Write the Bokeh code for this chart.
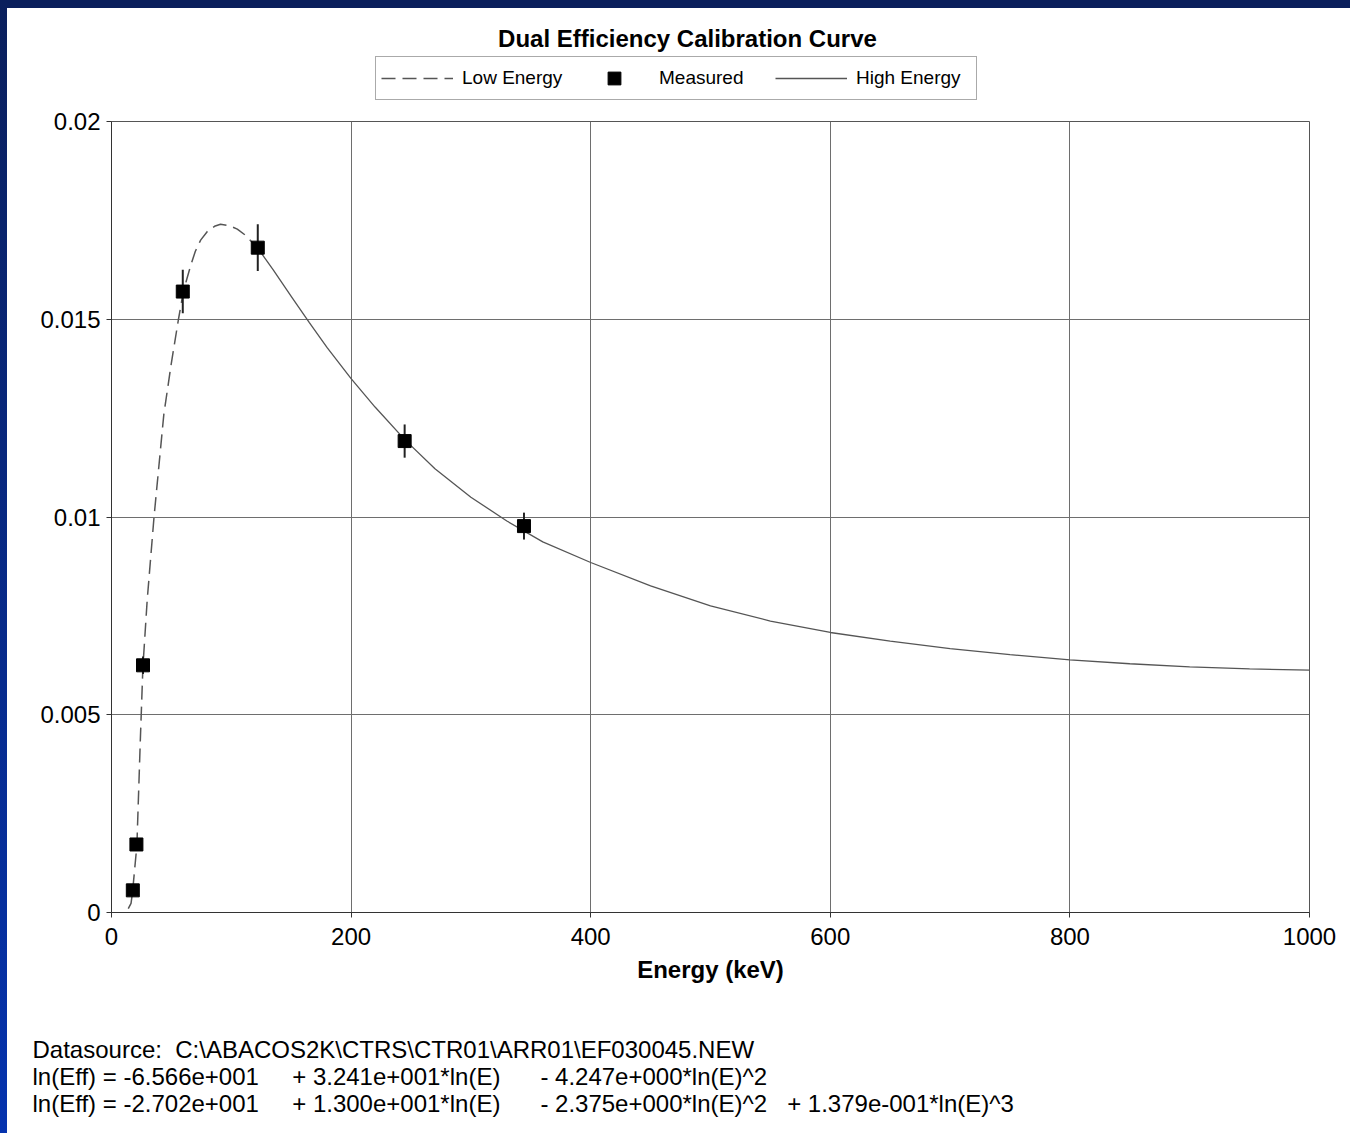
from bokeh.plotting import figure
from bokeh.models import (Range1d, FixedTicker, Legend, LegendItem, Title, Spacer, Label,
                          ColumnDataSource)
from bokeh.layouts import row, column
from bokeh.embed import file_html
from bokeh.resources import INLINE

# ---- data ----
energy_low = [14, 16.3, 17.6, 21.2, 24, 26.2, 29.8, 35.5, 43.7, 50, 55.9, 60, 63, 66, 70, 74.4,
              80, 86, 91, 98, 105, 112, 122]
eff_low = [0.0001, 0.00023, 0.00053, 0.0017, 0.0043, 0.0062, 0.0079, 0.0100, 0.0126, 0.0139, 0.0150,
           0.0157, 0.01603, 0.01635, 0.01672, 0.0170, 0.01722, 0.01735, 0.0174, 0.01737, 0.01728,
           0.01712, 0.0168]

energy_high = [122, 135, 150, 165, 180, 200, 220, 245, 270, 300, 330, 360, 400, 450, 500, 550,
               600, 650, 700, 750, 800, 850, 900, 950, 1000]
eff_high = [0.0168, 0.01625, 0.01558, 0.01492, 0.01428, 0.01350, 0.01278, 0.01195, 0.01122,
            0.01050, 0.00990, 0.00937, 0.00885, 0.00826, 0.00775, 0.00737, 0.00708, 0.00686,
            0.00667, 0.00652, 0.00639, 0.00629, 0.00621, 0.00616, 0.00613]

energy_meas = [17.8, 20.8, 26.3, 59.5, 122.1, 244.7, 344.3]
eff_meas = [0.00056, 0.00172, 0.00625, 0.0157, 0.01681, 0.01192, 0.00977]
eff_err = [0.00002, 0.00006, 0.00022, 0.00055, 0.00059, 0.00042, 0.00034]

x_ticks = [0, 200, 400, 600, 800, 1000]
y_ticks = [0, 0.005, 0.01, 0.015, 0.02]
y_tick_labels = {0: "0", 0.005: "0.005", 0.01: "0.01", 0.015: "0.015", 0.02: "0.02"}

legend_labels = ["Low Energy", "Measured", "High Energy"]
title_text = "Dual Efficiency Calibration Curve"
x_label = "Energy (keV)"
NB = "\u00a0"
footnote_lines = [
    "Datasource:" + NB * 2 + r"C:\ABACOS2K\CTRS\CTR01\ARR01\EF030045.NEW",
    "ln(Eff) = -6.566e+001" + NB * 5 + "+ 3.241e+001*ln(E)" + NB * 6 + "- 4.247e+000*ln(E)^2",
    "ln(Eff) = -2.702e+001" + NB * 5 + "+ 1.300e+001*ln(E)" + NB * 6 + "- 2.375e+000*ln(E)^2"
    + NB * 3 + "+ 1.379e-001*ln(E)^3",
]

FONT = "Liberation Sans"
CURVE = "#555555"

src_low = ColumnDataSource(dict(x=energy_low, y=eff_low))
src_high = ColumnDataSource(dict(x=energy_high, y=eff_high))
src_meas = ColumnDataSource(dict(x=energy_meas, y=eff_meas,
                                 lo=[v - e for v, e in zip(eff_meas, eff_err)],
                                 hi=[v + e for v, e in zip(eff_meas, eff_err)]))

x_range = Range1d(0, 1000)

# ---------------- header: title + legend (frame aligned with the main plot) ----------------
h = figure(width=1343, height=98, output_backend="svg", toolbar_location=None,
           x_range=x_range, y_range=Range1d(1, 2),
           x_axis_location=None, y_axis_location=None,
           min_border_left=104, min_border_right=41, min_border_top=0, min_border_bottom=0)
h.grid.visible = False
h.outline_line_color = None
h.background_fill_color = "white"
h.border_fill_color = "white"

# same series as the plot; they fall outside this header's y range, only their legend keys show
h_low = h.line("x", "y", source=src_low, line_color=CURVE, line_width=1.5, line_dash="14 7")
h_meas = h.scatter("x", "y", source=src_meas, marker="square", size=13,
                   fill_color="black", line_color="black")
h_high = h.line("x", "y", source=src_high, line_color=CURVE, line_width=1.3)

legend = Legend(items=[LegendItem(label=legend_labels[0], renderers=[h_low]),
                       LegendItem(label=legend_labels[1], renderers=[h_meas]),
                       LegendItem(label=legend_labels[2], renderers=[h_high])],
                orientation="horizontal", location=(264, 6))
legend.label_text_font = FONT
legend.label_text_font_size = "19px"
legend.label_text_color = "black"
legend.glyph_width = 72
legend.glyph_height = 32
legend.label_standoff = 9
legend.label_width = 115
legend.spacing = 1
legend.padding = 5
legend.margin = 0
legend.border_line_color = "#555555"
legend.border_line_width = 1
legend.background_fill_color = "white"
legend.background_fill_alpha = 1
h.add_layout(legend, "center")

h.add_layout(Label(x=480.8, y=1.694, text=title_text, text_align="center", text_baseline="middle",
                   text_font=FONT, text_font_size="24px", text_font_style="bold",
                   text_color="black"))

# ---------------- main plot ----------------
p = figure(width=1343, height=1027, output_backend="svg", toolbar_location=None,
           x_range=x_range, y_range=Range1d(0, 0.02),
           min_border_left=104, min_border_right=41, min_border_top=15, min_border_bottom=221)
p.background_fill_color = "white"
p.border_fill_color = "white"
p.outline_line_color = "#555555"
p.outline_line_width = 1

p.xaxis.ticker = FixedTicker(ticks=x_ticks)
p.yaxis.ticker = FixedTicker(ticks=y_ticks)
p.yaxis.major_label_overrides = y_tick_labels
for ax in (p.xaxis, p.yaxis):
    ax.major_label_text_font = FONT
    ax.major_label_text_font_size = "24px"
    ax.major_label_text_color = "black"
    ax.axis_line_color = "#333333"
    ax.major_tick_line_color = "#333333"
    ax.major_tick_out = 5
    ax.major_tick_in = 0
    ax.minor_tick_out = 0
    ax.minor_tick_in = 0
p.xaxis.major_label_standoff = 10
p.yaxis.major_label_standoff = 6
p.xaxis.axis_label = x_label
p.xaxis.axis_label_text_font = FONT
p.xaxis.axis_label_text_font_size = "24px"
p.xaxis.axis_label_text_font_style = "bold"
p.xaxis.axis_label_text_color = "black"
p.xaxis.axis_label_standoff = 8

p.xgrid.ticker = FixedTicker(ticks=x_ticks)
p.ygrid.ticker = FixedTicker(ticks=y_ticks)
for g in (p.xgrid, p.ygrid):
    g.grid_line_color = "#6e6e6e"
    g.grid_line_width = 1

p.line("x", "y", source=src_low, line_color=CURVE, line_width=1.5, line_dash="14 7")
p.line("x", "y", source=src_high, line_color=CURVE, line_width=1.3)
p.segment(x0="x", y0="lo", x1="x", y1="hi", source=src_meas, line_color="#222222", line_width=2)
p.scatter("x", "y", source=src_meas, marker="square", size=13, fill_color="black", line_color="black")

# footnote (gap title first, then the three lines)
p.add_layout(Title(text=NB, standoff=20, text_font=FONT, text_font_size="24px",
                   text_font_style="normal"), "below")
for line in footnote_lines:
    p.add_layout(Title(text=line, align="left", offset=-79, standoff=-2,
                       text_font=FONT, text_font_size="24px", text_font_style="normal",
                       text_color="black"), "below")

# ---------------- page frame ----------------
left_strip = Spacer(width=7, height=1133, styles={"background": "linear-gradient(#0a1f5c, #0533ae)"})
top_strip = Spacer(width=1343, height=8, styles={"background": "#0a1f5c"})
layout = row(left_strip, column(top_strip, h, p, spacing=0), spacing=0)

open("out.html", "w").write(file_html(layout, INLINE))
